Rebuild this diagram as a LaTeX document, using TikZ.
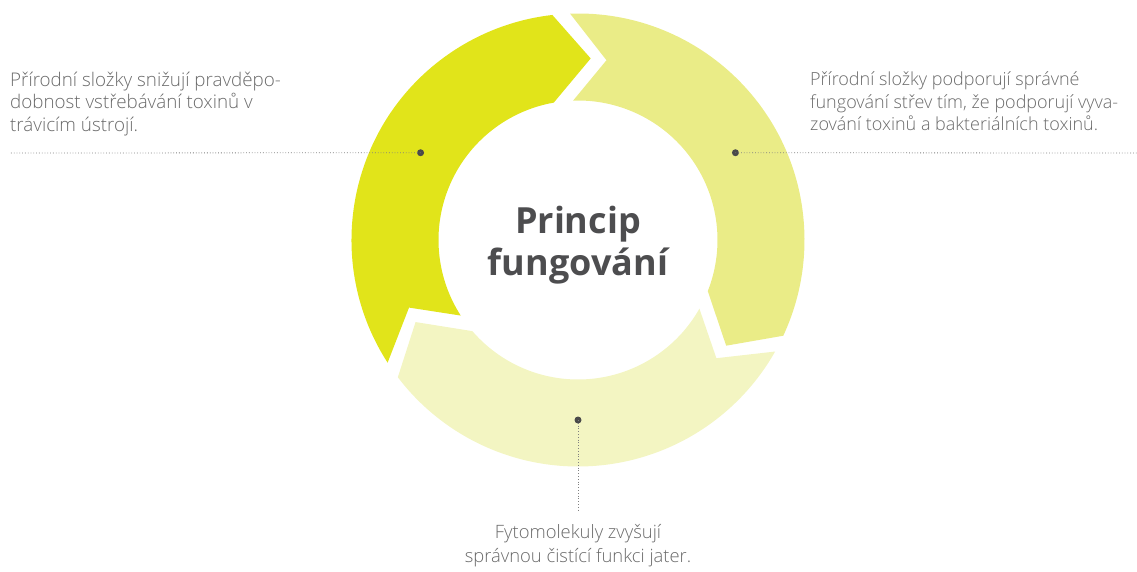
\documentclass[tikz,border=0pt]{standalone}
\usepackage{fontspec}
\setmainfont{Open Sans}
\newfontfamily\notefont{Open Sans Light}
\definecolor{ringone}{HTML}{E1E41A}
\definecolor{ringtwo}{HTML}{EAEC87}
\definecolor{ringthree}{HTML}{F3F5C2}
\definecolor{notegray}{HTML}{6A6A6A}
\definecolor{titlegray}{HTML}{4D4D4F}
\definecolor{dotgray}{HTML}{4A4A4A}

\begin{document}
\begin{tikzpicture}[x=1pt, y=1pt,
  note/.style = {text=notegray, inner sep=0pt, font=\notefont\fontsize{18}{22.5}\selectfont},
  marker/.style = {circle, fill=dotgray, inner sep=0pt, minimum size=7pt},
  leader/.style = {draw=gray, line width=0.8pt, dash pattern=on 0.8pt off 2pt}]
  \useasboundingbox (-578,-331) rectangle (559,240);
  % ring segments
  \fill[ringone] (212.8:226.5) arc[start angle=212.8, end angle=96.5, radius=226.5]
    -- (86:182) -- (100:139.5) arc[start angle=100, end angle=212.8, radius=139.5]
    -- (201.8:182) -- cycle;
  \fill[ringtwo] (92:226.5) arc[start angle=92, end angle=-25, radius=226.5]
    -- (-35.5:182) -- (-21.5:139.5) arc[start angle=-21.5, end angle=92, radius=139.5]
    -- (81:182) -- cycle;
  \fill[ringthree] (-29.5:226.5) arc[start angle=-29.5, end angle=-142.7, radius=226.5]
    -- (-153.2:182) -- (-139.2:139.5) arc[start angle=-139.2, end angle=-29.5, radius=139.5]
    -- (-40.5:182) -- cycle;
  \node[text=titlegray, align=center, font=\fontsize{36}{42}\selectfont\bfseries] (title) at (0,-5) {Princip\\fungování};
  % markers and leaders
  \node[marker] (dotl) at (151:180) {};
  \node[marker] (dotr) at (29:180) {};
  \node[marker] (dotb) at (270:180) {};
  \coordinate (endl) at (-568,87);
  \coordinate (endr) at (559,87);
  \coordinate (endb) at (0,-270);
  \draw[leader] (dotl.center) -- (endl);
  \draw[leader] (dotr.center) -- (endr);
  \draw[leader] (dotb.center) -- (endb);
  % texts
  \node[note, align=left, anchor=north west, font=\notefont\fontsize{18.8}{22.5}\selectfont] (txtl) at (-568,168.5) {Přírodní složky snižují pravděpo-\\dobnost vstřebávání toxinů v\\trávicím ústrojí.};
  \node[note, align=left, anchor=north west] (txtr) at (232,168) {Přírodní složky podporují správné\\fungování střev tím, že podporují vyva-\\zování toxinů a bakteriálních toxinů.};
  \node[note, align=center, anchor=north, font=\notefont\fontsize{18.4}{24}\selectfont] (txtb) at (0,-284) {Fytomolekuly zvyšují\\správnou čistící funkci jater.};
\end{tikzpicture}
\end{document}
